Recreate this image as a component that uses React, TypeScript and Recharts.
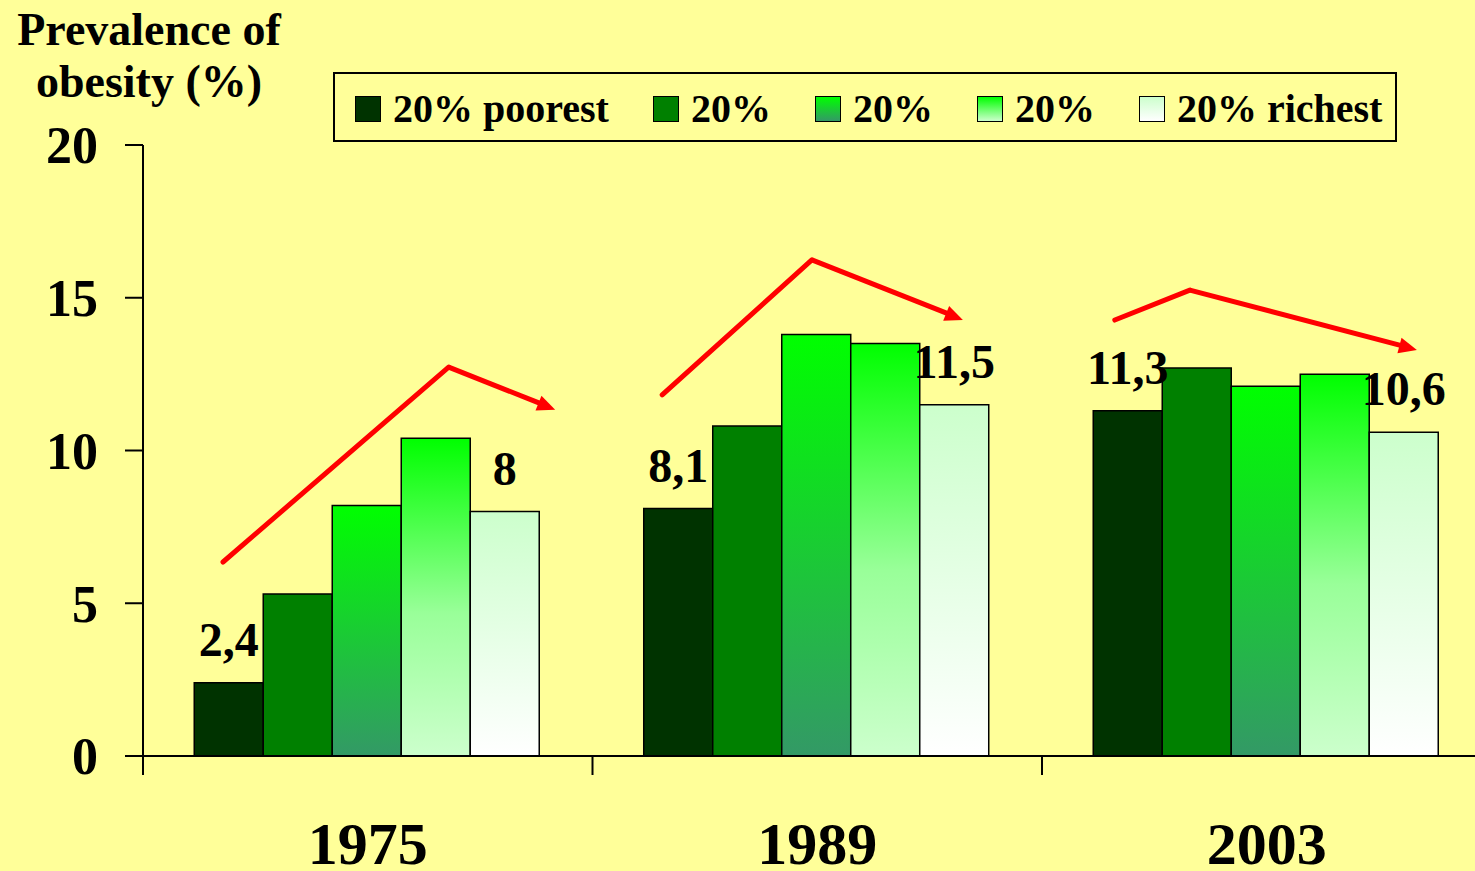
import { BarChart, Bar, XAxis, YAxis, ReferenceLine, LabelList } from "recharts";

const years = ["1975", "1989", "2003"];
const poorest = [2.4, 8.1, 11.3];
const second = [5.3, 10.8, 12.7];
const middle = [8.2, 13.8, 12.1];
const fourth = [10.4, 13.5, 12.5];
const richest = [8.0, 11.5, 10.6];
const seriesNames = ["20% poorest", "20%", "20%", "20%", "20% richest"];
const yTicks = [0, 5, 10, 15, 20];
const groupTicks = [0, 0.5, 1, 1.5, 2, 2.5, 3];

// red trend arrows, in data units (x = position along the year groups, y = %)
const arrowUp = [
  [{ x: 0.178, y: 6.35 }, { x: 0.68, y: 12.73 }],
  [{ x: 1.155, y: 11.82 }, { x: 1.488, y: 16.24 }],
  [{ x: 2.162, y: 14.27 }, { x: 2.329, y: 15.25 }],
];
const arrowDown = [
  [{ x: 0.68, y: 12.73 }, { x: 0.917, y: 11.33 }],
  [{ x: 1.488, y: 16.24 }, { x: 1.824, y: 14.27 }],
  [{ x: 2.329, y: 15.25 }, { x: 2.834, y: 13.29 }],
];

const data = years.map((year, i) => ({
  year,
  pos: i + 0.5,
  q1: poorest[i],
  q2: second[i],
  q3: middle[i],
  q4: fourth[i],
  q5: richest[i],
}));

const FONT = "'Liberation Serif', 'Times New Roman', serif";
const BG = "#FFFF99";

const series = [
  { key: "q1", fill: "#003300", swatch: "#003300" },
  { key: "q2", fill: "#008000", swatch: "#008000" },
  { key: "q3", fill: "url(#gQ3)", swatch: "linear-gradient(#00ff00, #339966)" },
  { key: "q4", fill: "url(#gQ4)", swatch: "linear-gradient(#00ff00, #ccffcc)" },
  { key: "q5", fill: "url(#gQ5)", swatch: "linear-gradient(#ccffcc, #ffffff)" },
];

const fmt = (v: any) => String(v).replace(".", ",");

function GroupTick(props: any) {
  const { x, y, payload } = props;
  const v = payload.value;
  if (Number.isInteger(v)) {
    return <line x1={x} x2={x} y1={y} y2={y + 19} stroke="#000" strokeWidth={2} />;
  }
  return (
    <text x={x} y={y + 108} textAnchor="middle" fill="#000" fontSize={60} fontWeight="bold" fontFamily={FONT}>
      {years[Math.floor(v)]}
    </text>
  );
}

function Segment(props: any) {
  const { x1, y1, x2, y2 } = props;
  return <line x1={x1} y1={y1} x2={x2} y2={y2} stroke="#ff0000" strokeWidth={5} strokeLinecap="round" />;
}

function ArrowSegment(props: any) {
  const { x1, y1, x2, y2 } = props;
  const a = Math.atan2(y2 - y1, x2 - x1);
  const L = 18, W = 8;
  const bx = x2 - L * Math.cos(a);
  const by = y2 - L * Math.sin(a);
  const pts = `${x2},${y2} ${bx + W * Math.sin(a)},${by - W * Math.cos(a)} ${bx - W * Math.sin(a)},${by + W * Math.cos(a)}`;
  return (
    <g>
      <line x1={x1} y1={y1} x2={bx + 1} y2={by} stroke="#ff0000" strokeWidth={5} />
      <polygon points={pts} fill="#ff0000" />
    </g>
  );
}

export default function App() {
  const labelStyle = { fill: "#000", fontSize: 48, fontWeight: "bold", fontFamily: FONT };
  return (
    <div style={{ position: "absolute", left: 0, top: 0, width: 1475, height: 871, overflow: "hidden", background: BG }}>
      <div
        style={{
          position: "absolute", left: 0, top: 4, width: 298, textAlign: "center",
          fontFamily: FONT, fontWeight: "bold", fontSize: 46, lineHeight: "52px", color: "#000",
        }}
      >
        Prevalence of
        <br />
        obesity (%)
      </div>

      <div
        style={{
          position: "absolute", left: 333, top: 72, width: 1064, height: 70, boxSizing: "border-box",
          border: "2px solid #000", display: "flex", alignItems: "center", gap: 44, paddingLeft: 20, paddingTop: 3,
          fontFamily: FONT, fontWeight: "bold", fontSize: 40, lineHeight: "40px", color: "#000", zIndex: 2,
        }}
      >
        {series.map((s, i) => (
          <div key={s.key} style={{ display: "flex", alignItems: "center", whiteSpace: "nowrap" }}>
            <span
              style={{
                display: "inline-block", width: 26, height: 26, boxSizing: "border-box",
                border: "1.5px solid #000", background: s.swatch, marginRight: 12,
              }}
            />
            {seriesNames[i]}
          </div>
        ))}
      </div>

      <BarChart
        width={1500}
        height={871}
        data={data}
        margin={{ top: 145, right: 8.5, bottom: 0, left: 0 }}
        barCategoryGap="11.4%"
        barGap={0}
      >
        <defs>
          <linearGradient id="gQ3" x1="0" y1="0" x2="0" y2="1">
            <stop offset="0%" stopColor="#00ff00" />
            <stop offset="100%" stopColor="#339966" />
          </linearGradient>
          <linearGradient id="gQ4" x1="0" y1="0" x2="0" y2="1">
            <stop offset="0%" stopColor="#00ff00" />
            <stop offset="55%" stopColor="#99ff99" />
            <stop offset="100%" stopColor="#ccffcc" />
          </linearGradient>
          <linearGradient id="gQ5" x1="0" y1="0" x2="0" y2="1">
            <stop offset="0%" stopColor="#ccffcc" />
            <stop offset="100%" stopColor="#ffffff" />
          </linearGradient>
        </defs>
        <XAxis dataKey="year" hide height={0} />
        <XAxis
          xAxisId="n"
          dataKey="pos"
          type="number"
          domain={[0, 3]}
          allowDataOverflow
          ticks={groupTicks}
          interval={0}
          height={115}
          tickSize={0}
          tickMargin={0}
          tickLine={false}
          axisLine={{ stroke: "#000", strokeWidth: 2 }}
          tick={<GroupTick />}
        />
        <YAxis
          domain={[0, 20]}
          ticks={yTicks}
          interval={0}
          width={143}
          tickSize={18}
          tickMargin={27}
          axisLine={{ stroke: "#000", strokeWidth: 2 }}
          tickLine={{ stroke: "#000", strokeWidth: 2 }}
          tick={{ fill: "#000", fontSize: 52, fontWeight: "bold", fontFamily: FONT }}
        />
        {series.map((s, i) => (
          <Bar key={s.key} dataKey={s.key} name={seriesNames[i]} fill={s.fill} stroke="#000" strokeWidth={1.5} isAnimationActive={false}>
            {(i === 0 || i === 4) && (
              <LabelList dataKey={s.key} position="top" offset={27} formatter={fmt} {...labelStyle} />
            )}
          </Bar>
        ))}
        {arrowUp.map((seg, i) => (
          <ReferenceLine key={"u" + i} xAxisId="n" segment={seg} ifOverflow="visible" shape={<Segment />} />
        ))}
        {arrowDown.map((seg, i) => (
          <ReferenceLine key={"d" + i} xAxisId="n" segment={seg} ifOverflow="visible" shape={<ArrowSegment />} />
        ))}
      </BarChart>
    </div>
  );
}
